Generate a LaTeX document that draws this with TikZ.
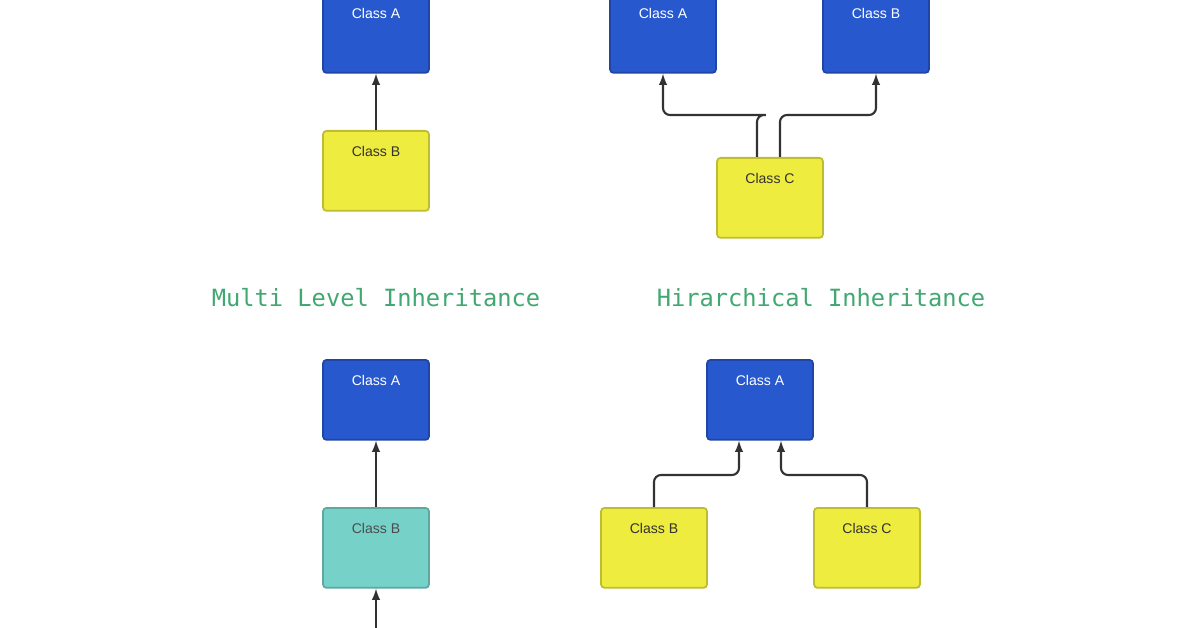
\documentclass[tikz,border=0pt]{standalone}
\usepackage{fontspec}
\setmainfont{Liberation Sans}
\newfontfamily\labelmono{DejaVu Sans Mono}
\usetikzlibrary{positioning,arrows}
\definecolor{clsblue}{RGB}{40,88,206}
\definecolor{clsyellow}{RGB}{238,236,62}
\definecolor{clsteal}{RGB}{118,210,200}
\definecolor{titlegreen}{RGB}{64,168,112}
\definecolor{wire}{RGB}{50,50,50}
\tikzset{
  cls/.style    = {shape=rectangle, rounded corners=2pt, draw, line width=1pt,
                   inner sep=0pt, minimum width=2.12cm, text height=0.52cm,
                   text depth=1.08cm, anchor=north, font=\fontsize{8}{9}\selectfont},
  parent/.style = {cls, fill=clsblue, draw=clsblue!80!black, text=white},
  child/.style  = {cls, fill=clsyellow, draw=clsyellow!80!black, text=black!80},
  middle/.style = {cls, fill=clsteal, draw=clsteal!80!black, text=black!70},
  title/.style  = {text=titlegreen, font=\labelmono\fontsize{13.5}{15}\selectfont},
  link/.style   = {draw=wire, line width=1.2pt, rounded corners=4pt, -latex}
}
\begin{document}
\begin{tikzpicture}[x=0.02cm,y=-0.02cm]
  \useasboundingbox (0,0) rectangle (1196,628);
  \clip (0,0) rectangle (1196,628);
  % single level
  \node [parent] (sA) at (376,-8) {Class A};
  \node [child]  (sB) at (376,130) {Class B};
  \draw [link] (sB) -- (sA);
  % hierarchical, several parents
  \node [parent] (hA) at (663,-8) {Class A};
  \node [parent] (hB) at (876,-8) {Class B};
  \node [child]  (hC) at (770,157) {Class C};
  \draw [link] ([xshift=-13*0.02cm]hC.north) |- (770,115) -| (hA.south);
  \draw [link] ([xshift=10*0.02cm]hC.north) |- (830,115) -| (hB.south);
  % titles
  \node [title] (tMulti) at (376,298) {Multi Level Inheritance};
  \node [title] (tHier)  at (821,298) {Hirarchical Inheritance};
  % multi level
  \node [parent] (mA) at (376,359) {Class A};
  \node [middle] (mB) at (376,507) {Class B};
  \coordinate (mC) at (376,640);
  \draw [link] (mB) -- (mA);
  \draw [link] (mC) -- (mB);
  % hierarchical, one parent
  \node [parent] (rA) at (760,359) {Class A};
  \node [child]  (rB) at (654,507) {Class B};
  \node [child]  (rC) at (867,507) {Class C};
  \draw [link] (rB.north) |- (700,475) -| ([xshift=-21*0.02cm]rA.south);
  \draw [link] (rC.north) |- (820,475) -| ([xshift=21*0.02cm]rA.south);
\end{tikzpicture}
\end{document}
